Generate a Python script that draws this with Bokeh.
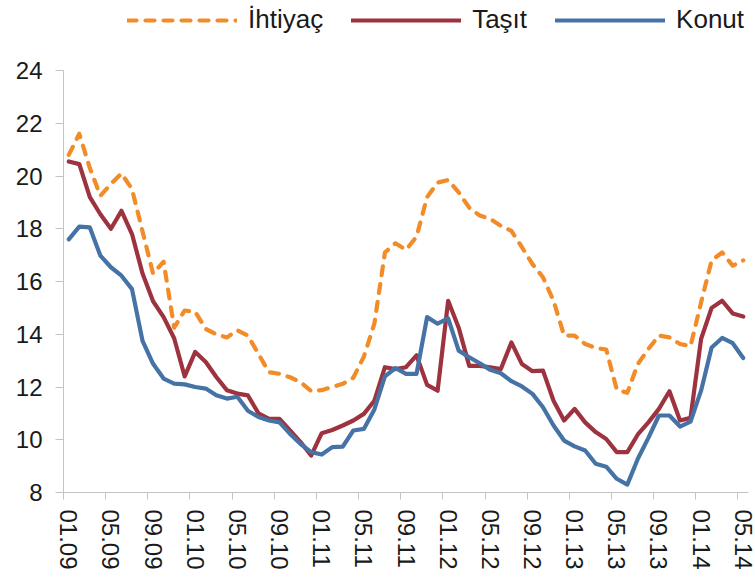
from bokeh.plotting import figure
from bokeh.models import FixedTicker, Legend, LegendItem, Range1d
from bokeh.embed import file_html
from bokeh.resources import INLINE

tick_labels = ["01.09", "05.09", "09.09", "01.10", "05.10", "09.10", "01.11", "05.11",
               "09.11", "01.12", "05.12", "09.12", "01.13", "05.13", "09.13", "01.14", "05.14"]
y_ticks = [8, 10, 12, 14, 16, 18, 20, 22, 24]

ihtiyac = [20.8, 21.6, 20.3, 19.25, 19.7, 20.1, 19.5, 17.9, 16.3, 16.75,
           14.25, 14.9, 14.85, 14.2, 14.0, 13.88, 14.15, 13.95, 13.25, 12.56,
           12.5, 12.37, 12.18, 11.85, 11.88, 12.0, 12.12, 12.35, 13.15, 14.4,
           17.1, 17.45, 17.2, 17.7, 19.2, 19.75, 19.85, 19.38, 18.8, 18.5,
           18.37, 18.11, 17.92, 17.3, 16.66, 16.16, 15.27, 13.95, 13.95, 13.63,
           13.48, 13.42, 11.9, 11.78, 12.87, 13.44, 13.95, 13.88, 13.63, 13.55,
           15.2, 16.8, 17.1, 16.6, 16.8]
tasit = [20.55, 20.45, 19.2, 18.55, 18.0, 18.68, 17.8, 16.3, 15.25, 14.65,
         13.85, 12.4, 13.33, 12.95, 12.38, 11.88, 11.75, 11.68, 11.0, 10.79,
         10.79, 10.35, 9.91, 9.4, 10.25, 10.37, 10.54, 10.73, 10.98, 11.48,
         12.75, 12.68, 12.75, 13.2, 12.08, 11.86, 15.27, 14.25, 12.8, 12.8,
         12.75, 12.68, 13.69, 12.87, 12.6, 12.62, 11.48, 10.73, 11.17, 10.66,
         10.29, 10.03, 9.53, 9.53, 10.2, 10.66, 11.17, 11.84, 10.73, 10.83,
         13.82, 15.0, 15.27, 14.79, 14.67]
konut = [17.6, 18.08, 18.05, 16.98, 16.54, 16.22, 15.71, 13.75, 12.88, 12.32,
         12.13, 12.1, 12.0, 11.94, 11.69, 11.56, 11.63, 11.1, 10.86, 10.73,
         10.66, 10.22, 9.84, 9.53, 9.44, 9.72, 9.74, 10.35, 10.41, 11.15,
         12.4, 12.72, 12.5, 12.5, 14.65, 14.4, 14.6, 13.38, 13.13, 12.9,
         12.65, 12.52, 12.22, 12.02, 11.74, 11.23, 10.54, 9.97, 9.75, 9.59,
         9.09, 8.98, 8.52, 8.3, 9.28, 10.07, 10.92, 10.92, 10.5, 10.69,
         11.86, 13.5, 13.86, 13.66, 13.1]

months = list(range(len(ihtiyac)))
label_step = 4

FONT = "Liberation Sans"
TEXT = "#1a1a1a"
AXIS = "#c4c4c4"
ORANGE = "#f28c28"
RED = "#9e3340"
BLUE = "#4673a6"

W, H = 755, 577
left, right, bottom = 63, 7, 85
top_gap = 70                      # space above the y=24 line for the legend
frame_h = H - bottom
y_lo, y_hi = y_ticks[0], y_ticks[-1]
y_top = y_hi + (y_hi - y_lo) * top_gap / (frame_h - top_gap)

p = figure(width=W, height=H, output_backend="svg", toolbar_location=None,
           x_range=Range1d(-0.5, len(months) - 0.5), y_range=Range1d(y_lo, y_top),
           min_border_left=left, min_border_right=right, min_border_top=0,
           min_border_bottom=bottom)
p.outline_line_color = None
p.grid.grid_line_color = None
p.background_fill_color = "white"
p.border_fill_color = "white"

r1 = p.line(months, ihtiyac, line_color=ORANGE, line_width=4.2, line_dash="9 9",
            line_cap="round", line_join="round")
r2 = p.line(months, tasit, line_color=RED, line_width=4.2,
            line_cap="round", line_join="round")
r3 = p.line(months, konut, line_color=BLUE, line_width=4.2,
            line_cap="round", line_join="round")

xa = p.xaxis[0]
major = [i * label_step for i in range(len(tick_labels))]
xa.ticker = FixedTicker(ticks=major, minor_ticks=[m - 0.5 for m in major])
xa.major_label_overrides = {m: lab for m, lab in zip(major, tick_labels)}
xa.major_label_orientation = "vertical"
xa.major_tick_out = 0
xa.major_tick_in = 0
xa.minor_tick_out = 7
xa.minor_tick_in = 0
xa.minor_tick_line_color = AXIS
xa.axis_line_color = AXIS
xa.major_label_standoff = 10
xa.major_label_text_font = FONT
xa.major_label_text_font_size = "24px"
xa.major_label_text_color = TEXT

ya = p.yaxis[0]
ya.ticker = FixedTicker(ticks=y_ticks, minor_ticks=[])
ya.bounds = (y_lo, y_hi)
ya.major_tick_out = 8
ya.major_tick_in = 0
ya.major_tick_line_color = AXIS
ya.axis_line_color = AXIS
ya.major_label_standoff = 13
ya.major_label_text_font = FONT
ya.major_label_text_font_size = "24px"
ya.major_label_text_color = TEXT

legend = Legend(items=[LegendItem(label="İhtiyaç", renderers=[r1]),
                       LegendItem(label="Taşıt", renderers=[r2]),
                       LegendItem(label="Konut", renderers=[r3])],
                orientation="horizontal", location=(64, 457))
legend.glyph_width = 110
legend.glyph_height = 20
legend.label_standoff = 11
legend.spacing = 28
legend.padding = 0
legend.margin = 0
legend.border_line_color = None
legend.background_fill_alpha = 0
legend.label_text_font = FONT
legend.label_text_font_size = "26px"
legend.label_text_color = TEXT
p.add_layout(legend, "center")

open("out.html", "w").write(file_html(p, INLINE))
